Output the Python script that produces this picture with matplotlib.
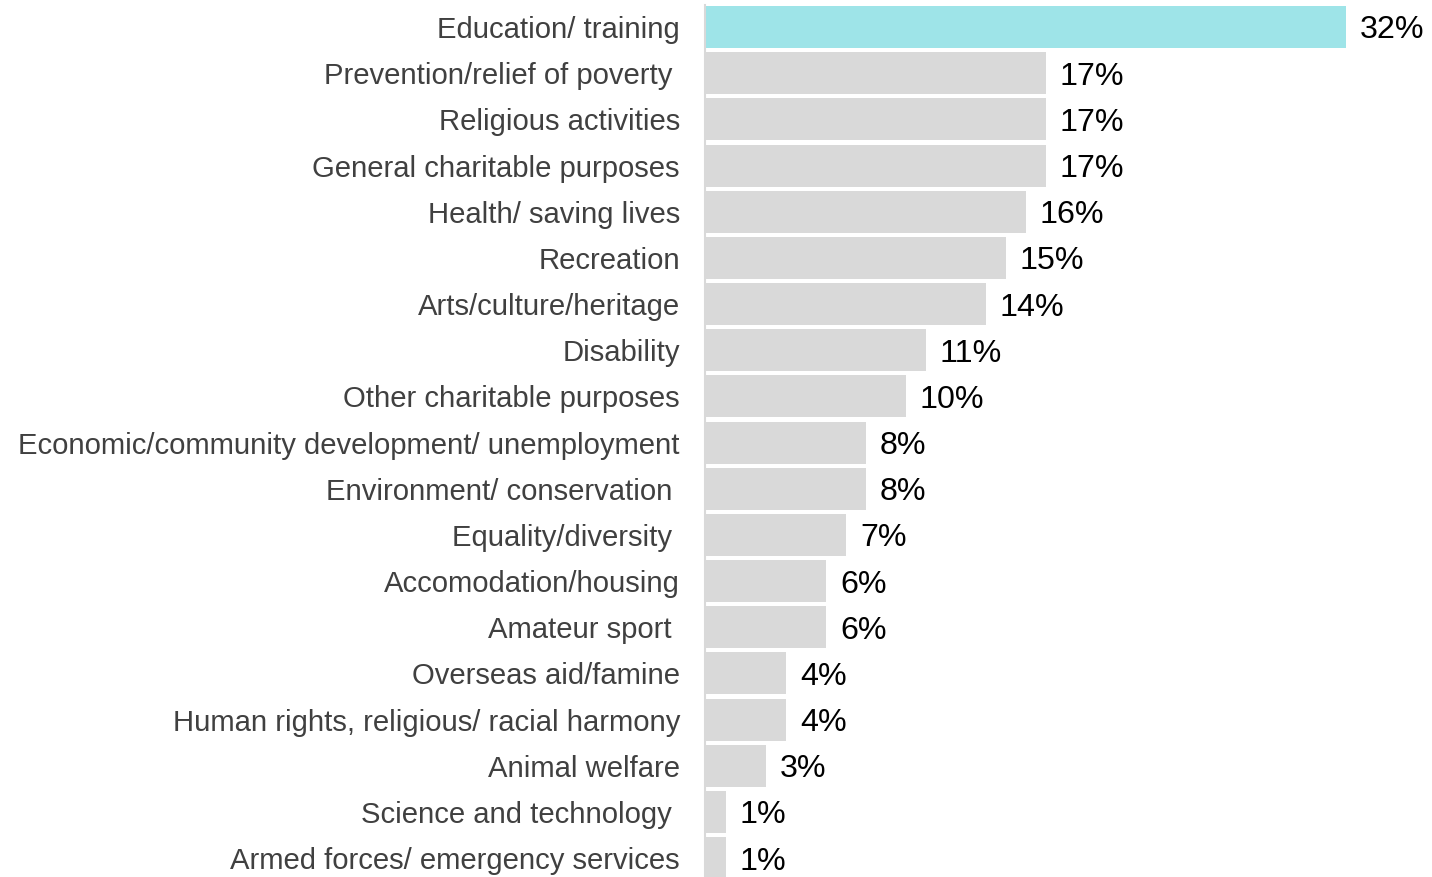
import matplotlib.pyplot as plt

plt.rcParams['font.family'] = ['Liberation Sans', 'DejaVu Sans']

categories = [
    'Education/ training',
    'Prevention/relief of poverty ',
    'Religious activities',
    'General charitable purposes',
    'Health/ saving lives',
    'Recreation',
    'Arts/culture/heritage',
    'Disability',
    'Other charitable purposes',
    'Economic/community development/ unemployment',
    'Environment/ conservation ',
    'Equality/diversity ',
    'Accomodation/housing',
    'Amateur sport ',
    'Overseas aid/famine',
    'Human rights, religious/ racial harmony',
    'Animal welfare',
    'Science and technology ',
    'Armed forces/ emergency services',
]
values = [32, 17, 17, 17, 16, 15, 14, 11, 10, 8, 8, 7, 6, 6, 4, 4, 3, 1, 1]

highlight = '#9ee4e8'
base = '#d9d9d9'

fig = plt.figure(figsize=(14.32, 8.77), dpi=100)
ax = fig.add_axes([705 / 1432, 0, 1 - 705 / 1432, 1])

pos = list(range(len(categories)))
colors = [highlight if i == 0 else base for i in pos]
ax.barh(pos, values, height=0.91, color=colors, edgecolor='none', left=0.05)

for i, v in zip(pos, values):
    ax.text(v + 0.05 + 0.7, i, f'{v}%', va='center_baseline', ha='left',
            fontsize=23.2, color='#000000')

ax.set_yticks(pos)
ax.set_yticklabels(categories, fontsize=21.1, color='#404040')
ax.tick_params(axis='y', length=0, pad=18)
ax.set_xticks([])

ax.set_xlim(0, 727 / 20)
ax.set_ylim((877 - 27) / 46.17, -27 / 46.17)

for side in ['top', 'right', 'bottom']:
    ax.spines[side].set_visible(False)
ax.spines['left'].set_color('#d9d9d9')
ax.spines['left'].set_linewidth(1.5)
ax.spines['left'].set_bounds(-0.48, 18.6)

fig.savefig('out.png', dpi=100, facecolor='white')
